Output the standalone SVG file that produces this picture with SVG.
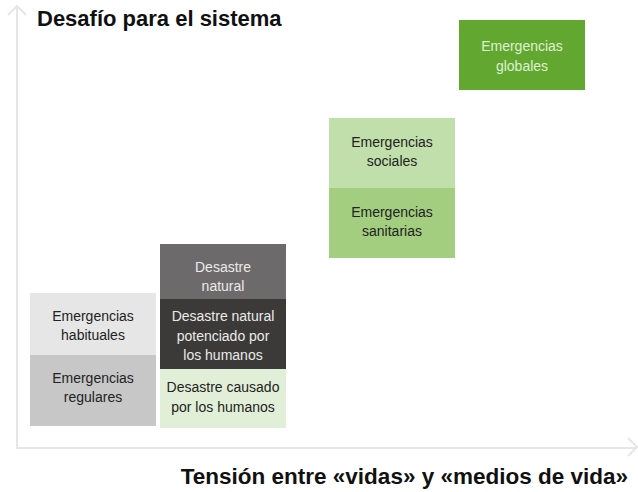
<svg xmlns="http://www.w3.org/2000/svg" width="638" height="492" viewBox="0 0 638 492">
<style>
.lbl{font-family:"Liberation Sans",Arial,sans-serif;font-size:14px;text-anchor:middle;fill:#222}
.lt{fill:#eaeaea}
.lg{fill:#dff0d0}
.ttl{font-family:"Liberation Sans",Arial,sans-serif;font-size:22px;font-weight:bold;fill:#111}
.ax{stroke:#e6e6e6;stroke-width:2;fill:none}
</style>
<rect width="638" height="492" fill="#fff"/>
<g id="axes">
<path class="ax" d="M17 6 V448 H637"/>
<path class="ax" d="M8 15 L17 6 L26 15"/>
<path class="ax" d="M628 438 L637 447 L628 456"/>
</g>
<text class="ttl" x="37" y="26">Desafío para el sistema</text>
<text class="ttl" x="628" y="484" text-anchor="end" style="font-size:22.5px">Tensión entre «vidas» y «medios de vida»</text>
<g id="globales"><rect x="459" y="20" width="126" height="70" fill="#62a830"/><text class="lbl lg" x="522" y="51">Emergencias</text><text class="lbl lg" x="522" y="71">globales</text></g>
<g id="sociales"><rect x="329" y="118" width="126" height="70" fill="#c0dfab"/><text class="lbl" x="392" y="147">Emergencias</text><text class="lbl" x="392" y="166">sociales</text></g>
<g id="sanitarias"><rect x="329" y="188" width="126" height="70" fill="#a3ce80"/><text class="lbl" x="392" y="217">Emergencias</text><text class="lbl" x="392" y="236">sanitarias</text></g>
<g id="desastre-natural"><rect x="160" y="244" width="126" height="55" fill="#6d6a6b"/><text class="lbl lt" x="223" y="272">Desastre</text><text class="lbl lt" x="223" y="291">natural</text></g>
<g id="desastre-potenciado"><rect x="160" y="299" width="126" height="70" fill="#3c3a39"/><text class="lbl lt" x="223" y="321">Desastre natural</text><text class="lbl lt" x="223" y="341">potenciado por</text><text class="lbl lt" x="223" y="360">los humanos</text></g>
<g id="desastre-causado"><rect x="160" y="369" width="126" height="59" fill="#e2efd8"/><text class="lbl" x="223" y="392">Desastre causado</text><text class="lbl" x="223" y="412">por los humanos</text></g>
<g id="habituales"><rect x="30" y="293" width="126" height="62" fill="#e6e6e6"/><text class="lbl" x="93" y="321">Emergencias</text><text class="lbl" x="93" y="340">habituales</text></g>
<g id="regulares"><rect x="30" y="355" width="126" height="71" fill="#c7c7c7"/><text class="lbl" x="93" y="383">Emergencias</text><text class="lbl" x="93" y="402">regulares</text></g>
<g id="connectors"></g>
</svg>
